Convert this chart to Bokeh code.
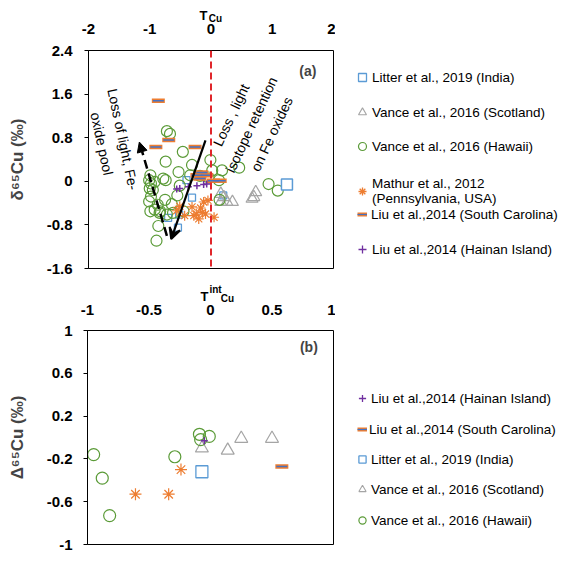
from bokeh.plotting import figure
from bokeh.models import (Range1d, FixedTicker, Label, Span, Arrow, VeeHead,
                          NormalHead, Legend, LegendItem)
from bokeh.layouts import column, row
from bokeh.embed import file_html
from bokeh.resources import INLINE

FONT = "Liberation Sans"
GREEN = "#5B9B38"
GRAY = "#A5A5A5"
BLUE = "#5B9BD5"
ORANGE = "#ED7D31"
DBLUE = "#4472C4"
PURPLE = "#7030A0"
NAN = float("nan")

# ---------------- Panel (a) data: T_Cu vs d65Cu ----------------
a_xticks = [-2, -1, 0, 1, 2]
a_xlabels = ["-2", "-1", "0", "1", "2"]
a_yticks = [-1.6, -0.8, 0, 0.8, 1.6, 2.4]
a_ylabels = ["-1.6", "-0.8", "0", "0.8", "1.6", "2.4"]

india_a_x = [-0.40, -0.31, -0.70, -0.52, -0.54, 0.20, 1.24]
india_a_y = [0.02, -0.30, -0.67, -0.61, -0.85, -0.26, -0.06]

scot_a_x = [0.16, 0.21, 0.26, 0.35, 0.16, 0.73, 0.70, 0.67]
scot_a_y = [-0.23, -0.29, -0.38, -0.38, -0.38, -0.20, -0.29, -0.32]

hawaii_a_x = [-0.72, -0.67, -0.74, -0.99, -1.01, -0.98, -1.00, -0.95, -0.98, -0.99,
              -0.92, -0.84, -0.86, -0.89, -0.74, -0.46, -0.53, -0.31, -0.34, -0.01,
              0.02, 0.18, 0.46, -0.18, -0.04, 0.13, -0.78, -0.51, -0.55, -0.64,
              -0.62, -0.87, -0.83, 0.14, 0.94, 1.09, -0.92, -0.75, -0.72, -1.01,
              -0.45]
hawaii_a_y = [0.92, 0.87, 0.36, 0.11, 0.02, -0.04, -0.13, -0.16, -0.28, -0.55,
              -0.52, -0.58, -0.82, -1.09, 0.02, 0.54, 0.17, 0.30, 0.11, 0.39,
              0.20, 0.20, 0.25, 0.10, 0.07, 0.02, 0.05, -0.08, -0.26, -0.42,
              -0.58, -0.43, -0.55, -0.34, -0.05, -0.17, -0.01, -0.34, -0.61, -0.37,
              -0.55]

mathur_a_x = [-0.56, -0.51, -0.43, -0.31, -0.24, -0.17, -0.12, -0.05, -0.20, -0.09,
              0.05, -0.28, -0.14]
mathur_a_y = [-0.54, -0.46, -0.63, -0.47, -0.60, -0.49, -0.38, -0.35, -0.69, -0.60,
              -0.66, -0.63, -0.57]

sc_a_x = [-0.86, -0.69, -0.90, -0.26, -0.15, -0.23, -0.07, -0.18, 0.04, 0.15]
sc_a_y = [1.48, 0.76, 0.63, 0.63, 0.16, 0.11, 0.11, 0.05, 0.01, 0.01]

hainan_a_x = [-0.56, -0.51, -0.37, -0.23, -0.12, -0.07]
hainan_a_y = [-0.14, -0.13, -0.10, -0.08, -0.06, -0.05]

# trend arrows (data coordinates: x_start, y_start, x_end, y_end)
solid_arrow = [-0.09, 0.75, -0.65, -1.06]
dashed_arrow = [-0.72, -1.00, -1.17, 0.72]

# ---------------- Panel (b) data: T^int_Cu vs D65Cu ----------------
b_xticks = [-1, -0.5, 0, 0.5, 1]
b_xlabels = ["-1", "-0.5", "0", "0.5", "1"]
b_yticks = [-1, -0.6, -0.2, 0.2, 0.6, 1]
b_ylabels = ["-1", "-0.6", "-0.2", "0.2", "0.6", "1"]

hawaii_b_x = [-0.95, -0.88, -0.82, -0.29, -0.09, -0.08, -0.01]
hawaii_b_y = [-0.16, -0.38, -0.73, -0.18, 0.03, -0.02, 0.01]
scot_b_x = [-0.07, 0.14, 0.25, 0.50]
scot_b_y = [-0.10, -0.12, -0.01, -0.01]
india_b_x = [-0.07]
india_b_y = [-0.32]
mathur_b_x = [-0.61, -0.34, -0.24]
mathur_b_y = [-0.53, -0.53, -0.30]
sc_b_x = [0.58]
sc_b_y = [-0.27]
hainan_b_x = [-0.05]
hainan_b_y = [-0.03]

LEFT_W = 335      # width of the plot column
LEG_W = 226       # width of the legend column


def style_text_axis(ax, standoff):
    ax.major_label_text_font = FONT
    ax.major_label_text_font_style = "bold"
    ax.major_label_text_font_size = "15px"
    ax.major_label_text_color = "black"
    ax.major_label_standoff = standoff


def blank_fig(width, height, xr, yr, mleft=0, mright=0, mbottom=0, xaxis=None):
    p = figure(width=width, height=height, x_range=xr, y_range=yr,
               x_axis_location=xaxis, y_axis_location=None,
               output_backend="svg", toolbar_location=None,
               min_border_left=mleft, min_border_right=mright,
               min_border_top=0, min_border_bottom=mbottom)
    p.grid.visible = False
    p.outline_line_color = None
    p.background_fill_color = "white"
    p.border_fill_color = "white"
    return p


def header_fig(xr, height, frame_h, mleft, fw, ticks, labels):
    """Strip above a panel: holds the x-axis title and the x tick labels."""
    p = blank_fig(LEFT_W, height, xr, Range1d(0, frame_h), mleft, LEFT_W - mleft - fw,
                  height - frame_h, "below")
    ax = p.xaxis[0]
    ax.axis_line_color = None
    ax.major_tick_in = 0
    ax.major_tick_out = 0
    ax.minor_tick_in = 0
    ax.minor_tick_out = 0
    ax.ticker = FixedTicker(ticks=ticks)
    ax.major_label_overrides = {t: l for t, l in zip(ticks, labels)}
    style_text_axis(ax, 0)
    return p


def base_fig(xr, yr, height, mleft, fw, mtop, mbottom, ticks, labels, ylabel, standoff):
    p = figure(width=LEFT_W, height=height, x_range=xr, y_range=yr,
               x_axis_location=None, output_backend="svg", toolbar_location=None,
               min_border_left=mleft, min_border_right=LEFT_W - mleft - fw,
               min_border_top=mtop, min_border_bottom=mbottom)
    p.grid.visible = False
    p.outline_line_color = "black"
    p.outline_line_width = 1
    p.background_fill_color = "white"
    p.border_fill_color = "white"
    ax = p.yaxis[0]
    ax.axis_line_color = "black"
    ax.major_tick_in = 0
    ax.major_tick_out = 4
    ax.minor_tick_out = 0
    ax.minor_tick_in = 0
    ax.ticker = FixedTicker(ticks=ticks)
    ax.major_label_overrides = {t: l for t, l in zip(ticks, labels)}
    style_text_axis(ax, standoff)
    ax.axis_label = ylabel
    ax.axis_label_text_font = FONT
    ax.axis_label_text_font_style = "bold"
    ax.axis_label_text_font_size = "17px"
    ax.axis_label_standoff = 17
    return p


def item_legend(p, label, renderers, vx, vy, gw=20, standoff=0):
    leg = Legend(items=[LegendItem(label=label, renderers=renderers)],
                 location=(vx, vy), padding=0, margin=0, spacing=0,
                 border_line_color=None, background_fill_alpha=0,
                 glyph_width=gw, glyph_height=20, label_height=20,
                 label_standoff=standoff, label_text_font=FONT,
                 label_text_font_size="13.5px", label_text_color="black",
                 label_text_line_height=1.2)
    p.add_layout(leg)


def legend_renderers(p):
    # one undrawn (NaN) point per series: only used for the legend swatches
    r = {}
    r["india"] = p.scatter([NAN], [NAN], marker="square", fill_color=None,
                           line_color=BLUE, line_width=1.3)
    r["scot"] = p.scatter([NAN], [NAN], marker="triangle", fill_color=None,
                          line_color=GRAY, line_width=1.1)
    r["hawaii"] = p.scatter([NAN], [NAN], marker="circle", fill_color=None,
                            line_color=GREEN, line_width=1.2)
    r["mathur"] = p.scatter([NAN], [NAN], marker="asterisk",
                            line_color=ORANGE, line_width=1.3)
    r["sc1"] = p.line([NAN, NAN], [NAN, NAN], line_color=ORANGE, line_width=4)
    r["sc2"] = p.line([NAN, NAN], [NAN, NAN], line_color=DBLUE, line_width=1.2)
    r["hainan"] = p.scatter([NAN], [NAN], marker="cross", line_color=PURPLE,
                            line_width=1.3)
    return r


def draw_series(p, ix, iy, sx, sy, hx, hy, mx, my, cx, cy, px, py):
    r = {}
    r["india"] = p.scatter(ix, iy, marker="square", size=7, fill_color=None,
                           line_color=BLUE, line_width=1.3)
    r["scot"] = p.scatter(sx, sy, marker="triangle", size=12, fill_color=None,
                          line_color=GRAY, line_width=1.2)
    r["hawaii"] = p.scatter(hx, hy, marker="circle", size=11, fill_color=None,
                            line_color=GREEN, line_width=1.2)
    r["mathur"] = p.scatter(mx, my, marker="asterisk", size=10,
                            line_color=ORANGE, line_width=1.2)
    r["sc1"] = p.scatter(cx, cy, marker="dash", size=13, line_color=ORANGE, line_width=4.5)
    r["sc2"] = p.scatter(cx, cy, marker="dash", size=11, line_color=DBLUE, line_width=1.5)
    r["hainan"] = p.scatter(px, py, marker="cross", size=7, line_color=PURPLE, line_width=1.5)
    return r


def hlabel(p, text, xoff, y, size):
    p.add_layout(Label(x=0, y=y, x_offset=xoff, text=text, text_align="center",
                       text_baseline="middle", text_font=FONT, text_font_size=size,
                       text_font_style="bold", text_color="black"))


# ---------------- panel (a) ----------------
xr_a = Range1d(-2, 2)
head1 = header_fig(xr_a, 41, 23, 88, 245, a_xticks, a_xlabels)
hlabel(head1, "T", -7.5, 8, "13px")
hlabel(head1, "Cu", 4.5, 5.5, "10px")

p1 = base_fig(xr_a, Range1d(-1.6, 2.4), 241, 88, 245, 9, 14,
              a_yticks, a_ylabels, "δ⁶⁵Cu (‰)", 12)

p1.add_layout(Span(location=0, dimension="height", line_color="#E0262B",
                   line_width=2, line_dash="7 4"))

ra = draw_series(p1, india_a_x, india_a_y, scot_a_x, scot_a_y, hawaii_a_x, hawaii_a_y,
                 mathur_a_x, mathur_a_y, sc_a_x, sc_a_y, hainan_a_x, hainan_a_y)
# the India point at high T_Cu is drawn larger in the original
p1.scatter(india_a_x[-1:], india_a_y[-1:], marker="square", size=11, fill_color="white",
           line_color=BLUE, line_width=1.5)

p1.add_layout(Arrow(end=VeeHead(size=11, line_color="black", line_width=2),
                    x_start=solid_arrow[0], y_start=solid_arrow[1],
                    x_end=solid_arrow[2], y_end=solid_arrow[3],
                    line_color="black", line_width=2.2))
p1.add_layout(Arrow(end=NormalHead(size=10, fill_color="black", line_color="black"),
                    x_start=dashed_arrow[0], y_start=dashed_arrow[1],
                    x_end=dashed_arrow[2], y_end=dashed_arrow[3],
                    line_color="black", line_width=2.5, line_dash="9 5"))

p1.add_layout(Label(x=-1.61, y=0.73, text="Loss of light, Fe-\noxide pool",
                    angle=-78, angle_units="deg", text_align="center",
                    text_baseline="middle", text_font=FONT, text_font_size="14px",
                    text_line_height=1.35, text_color="black"))
p1.add_layout(Label(x=0.66, y=1.04, text="Loss , light\nisotope retention\non Fe oxides",
                    angle=65, angle_units="deg", text_align="center",
                    text_baseline="middle", text_font=FONT, text_font_size="14px",
                    text_line_height=1.4, text_color="black"))
p1.add_layout(Label(x=1.58, y=2.03, text="(a)", text_align="center", text_baseline="middle",
                    text_font=FONT, text_font_size="14px", text_font_style="bold"))

leg1 = blank_fig(LEG_W, 282, Range1d(0, LEG_W), Range1d(0, 282))
la = legend_renderers(leg1)
# legend column starts at x 335; its frame bottom is at y 282
item_legend(leg1, "Litter et al., 2019 (India)", [la["india"]], 17, 195)
item_legend(leg1, "Vance et al., 2016 (Scotland)", [la["scot"]], 17, 160)
item_legend(leg1, "Vance et al., 2016 (Hawaii)", [la["hawaii"]], 17, 126)
item_legend(leg1, "Mathur et al., 2012\n(Pennsylvania, USA)", [la["mathur"]], 17, 76)
item_legend(leg1, "Liu et al.,2014 (South Carolina)", [la["sc1"], la["sc2"]], 22, 58, 10, 4)
item_legend(leg1, "Liu et al.,2014 (Hainan Island)", [la["hainan"]], 17, 23)

# ---------------- panel (b) ----------------
xr_b = Range1d(-1, 1)
head2 = header_fig(xr_b, 39, 22, 87, 246, b_xticks, b_xlabels)
hlabel(head2, "T", -6, 8, "13px")
hlabel(head2, "int", 5, 15, "10px")
hlabel(head2, "Cu", 17, 6, "10px")

p2 = base_fig(xr_b, Range1d(-1, 1), 232, 87, 246, 9, 9,
              b_yticks, b_ylabels, "Δ⁶⁵Cu (‰)", 11)

rb = draw_series(p2, india_b_x, india_b_y, scot_b_x, scot_b_y, hawaii_b_x, hawaii_b_y,
                 mathur_b_x, mathur_b_y, sc_b_x, sc_b_y, hainan_b_x, hainan_b_y)
rb["india"].glyph.size = 12
rb["scot"].glyph.size = 13
rb["hawaii"].glyph.size = 12
rb["mathur"].glyph.size = 12

p2.add_layout(Label(x=0.80, y=0.85, text="(b)", text_align="center", text_baseline="middle",
                    text_font=FONT, text_font_size="14px", text_font_style="bold"))

leg2 = blank_fig(LEG_W, 271, Range1d(0, LEG_W), Range1d(0, 271))
lb = legend_renderers(leg2)
# frame bottom at y 553
item_legend(leg2, "Liu et al.,2014 (Hainan Island)", [lb["hainan"]], 18, 145, 18)
item_legend(leg2, "Liu et al.,2014 (South Carolina)", [lb["sc1"], lb["sc2"]], 22, 114, 10, 2)
item_legend(leg2, "Litter et al., 2019 (India)", [lb["india"]], 18, 84, 18)
item_legend(leg2, "Vance et al., 2016 (Scotland)", [lb["scot"]], 18, 54, 18)
item_legend(leg2, "Vance et al., 2016 (Hawaii)", [lb["hawaii"]], 18, 23, 18)

layout = column(row(column(head1, p1), leg1), row(column(head2, p2), leg2))
open("out.html", "w").write(file_html(layout, INLINE))
